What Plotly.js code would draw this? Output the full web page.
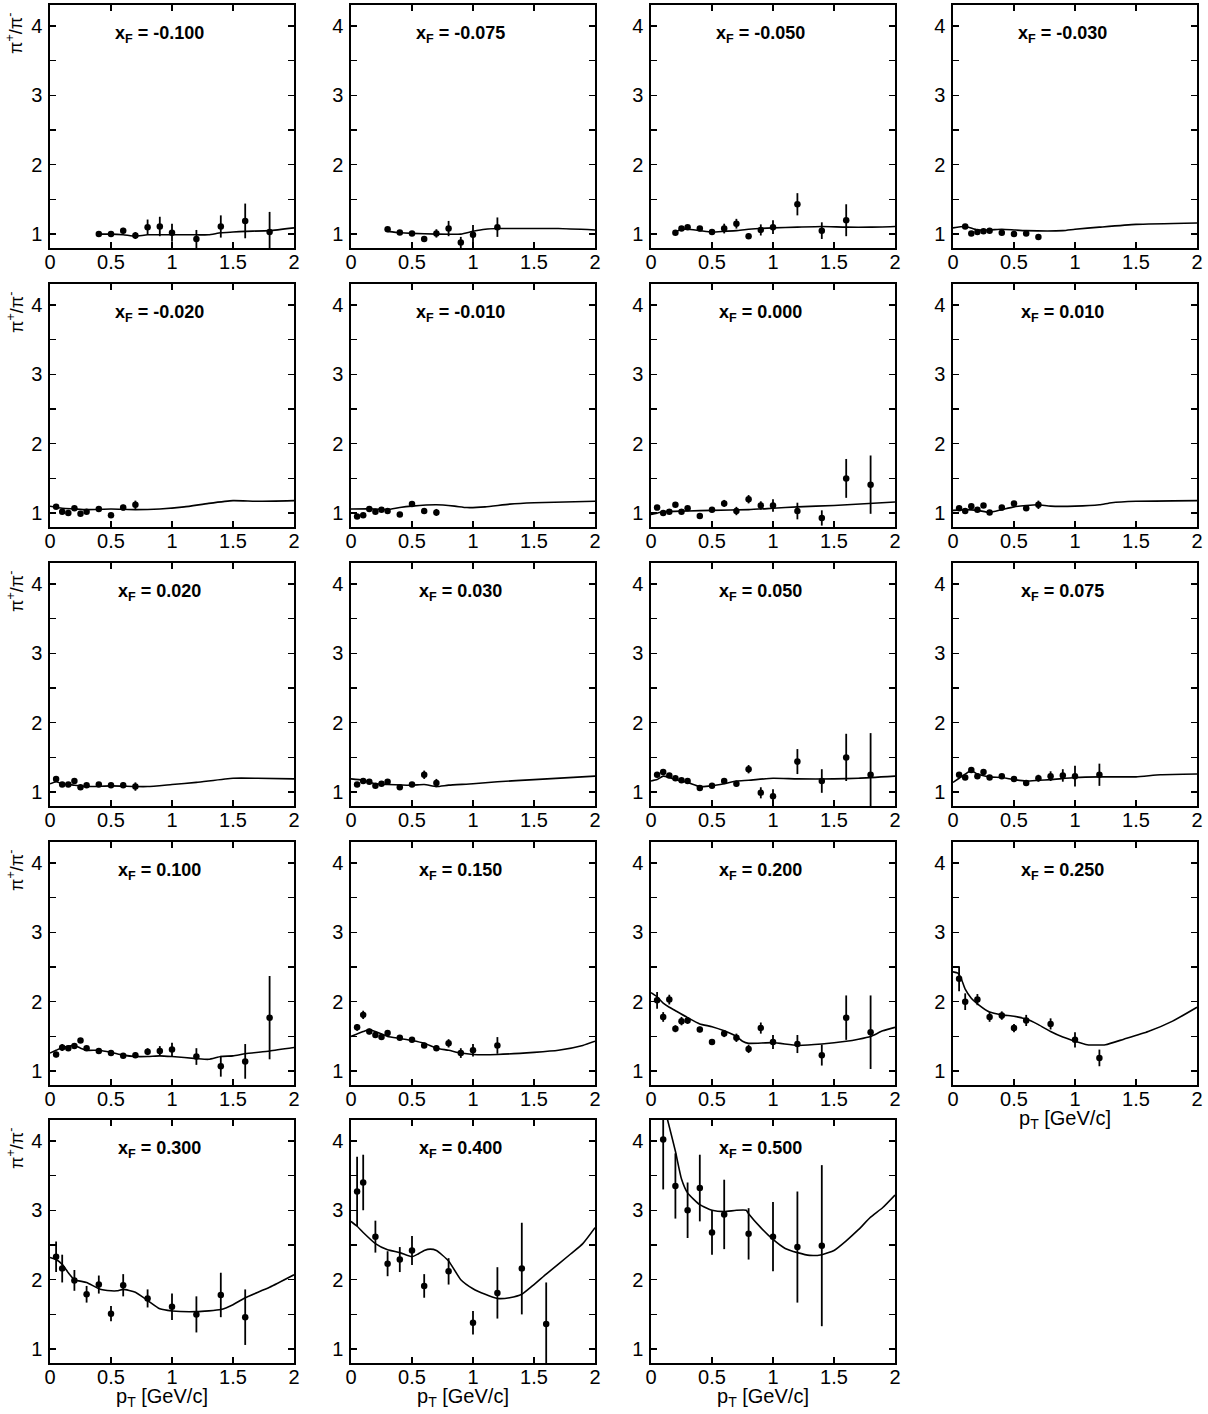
<!DOCTYPE html>
<html>
<head>
<meta charset="utf-8">
<script src="https://cdn.plot.ly/plotly-3.0.1.min.js"></script>
<style>
  html, body { margin: 0; padding: 0; background: #fff; }
  #chart { width: 1208px; height: 1414px; }
</style>
</head>
<body>
<div id="chart"></div>
<script>
// ---------------------------------------------------------------------------
// Data: pi+/pi- ratio vs pT, one panel per x_F bin.
// pt_* / r_* / e_* are the data points, cx_* / cy_* the model curve.
// ---------------------------------------------------------------------------

const xfLabels = ['-0.100', '-0.075', '-0.050', '-0.030', '-0.020', '-0.010', '0.000', '0.010',
                  '0.020', '0.030', '0.050', '0.075', '0.100', '0.150', '0.200', '0.250',
                  '0.300', '0.400', '0.500'];

const xTickVals = [0, 0.5, 1, 1.5, 2];
const xTickText = ['0', '0.5', '1', '1.5', '2'];
const yTickVals = [1, 2, 3, 4];

// x_F = -0.100
const pt_m100 = [0.4, 0.5, 0.6, 0.7, 0.8, 0.9, 1.0, 1.2, 1.4, 1.6, 1.8];
const r_m100  = [1.00, 1.00, 1.05, 0.98, 1.10, 1.11, 1.02, 0.93, 1.11, 1.19, 1.03];
const e_m100  = [0.03, 0.03, 0.04, 0.05, 0.11, 0.14, 0.13, 0.13, 0.16, 0.25, 0.29];
const cx_m100 = [0.4, 0.5, 0.6, 0.7, 0.8, 1.0, 1.2, 1.3, 1.4, 1.5, 1.6, 1.8, 2.0];
const cy_m100 = [1.00, 1.00, 0.99, 0.97, 0.99, 0.99, 0.99, 0.99, 1.02, 1.03, 1.04, 1.05, 1.09];

// x_F = -0.075
const pt_m075 = [0.3, 0.4, 0.5, 0.6, 0.7, 0.8, 0.9, 1.0, 1.2];
const r_m075  = [1.07, 1.025, 1.01, 0.93, 1.01, 1.08, 0.88, 0.99, 1.10];
const e_m075  = [0.02, 0.02, 0.03, 0.04, 0.06, 0.11, 0.08, 0.14, 0.14];
const cx_m075 = [0.3, 0.4, 0.5, 0.7, 0.9, 1.0, 1.1, 1.2, 1.5, 1.7, 2.0];
const cy_m075 = [1.04, 1.02, 1.01, 1.00, 1.00, 1.04, 1.07, 1.08, 1.08, 1.08, 1.06];

// x_F = -0.050
const pt_m050 = [0.2, 0.25, 0.3, 0.4, 0.5, 0.6, 0.7, 0.8, 0.9, 1.0, 1.2, 1.4, 1.6];
const r_m050  = [1.02, 1.08, 1.10, 1.08, 1.03, 1.08, 1.15, 0.97, 1.06, 1.10, 1.43, 1.05, 1.20];
const e_m050  = [0.02, 0.02, 0.03, 0.03, 0.03, 0.07, 0.07, 0.04, 0.08, 0.10, 0.16, 0.12, 0.23];
const cx_m050 = [0.2, 0.25, 0.3, 0.4, 0.5, 0.6, 0.7, 0.8, 1.0, 1.2, 1.4, 1.6, 1.8, 2.0];
const cy_m050 = [1.03, 1.07, 1.07, 1.05, 1.03, 1.04, 1.05, 1.07, 1.09, 1.10, 1.11, 1.10, 1.10, 1.11];

// x_F = -0.030
const pt_m030 = [0.1, 0.15, 0.2, 0.25, 0.3, 0.4, 0.5, 0.6, 0.7];
const r_m030  = [1.11, 1.01, 1.03, 1.04, 1.05, 1.02, 1.00, 1.01, 0.96];
const e_m030  = [0.02, 0.02, 0.02, 0.02, 0.02, 0.03, 0.03, 0.03, 0.04];
const cx_m030 = [0, 0.1, 0.2, 0.3, 0.4, 0.5, 0.6, 0.9, 1.0, 1.2, 1.5, 2.0];
const cy_m030 = [1.09, 1.11, 1.06, 1.06, 1.07, 1.06, 1.05, 1.05, 1.07, 1.10, 1.14, 1.16];

// pT grids shared by several bins
const pt_low = [0.05, 0.1, 0.15, 0.2, 0.25, 0.3, 0.4, 0.5, 0.6, 0.7];
const pt_mid = [0.05, 0.1, 0.15, 0.2, 0.25, 0.3, 0.4, 0.5, 0.6, 0.7, 0.8, 0.9, 1.0, 1.2];
const pt_full = [0.05, 0.1, 0.15, 0.2, 0.25, 0.3, 0.4, 0.5, 0.6, 0.7, 0.8, 0.9, 1.0, 1.2, 1.4, 1.6, 1.8];

// x_F = -0.020
const r_m020  = [1.09, 1.02, 1.00, 1.07, 0.99, 1.02, 1.06, 0.97, 1.08, 1.12];
const e_m020  = [0.02, 0.02, 0.02, 0.02, 0.02, 0.02, 0.03, 0.03, 0.04, 0.06];
const cx_m020 = [0, 0.1, 0.2, 0.3, 0.5, 0.7, 0.9, 1.1, 1.3, 1.5, 1.7, 2.0];
const cy_m020 = [1.10, 1.07, 1.06, 1.05, 1.06, 1.05, 1.06, 1.09, 1.14, 1.18, 1.17, 1.18];

// x_F = -0.010
const r_m010  = [0.95, 0.97, 1.06, 1.02, 1.05, 1.03, 0.98, 1.13, 1.03, 1.01];
const e_m010  = [0.02, 0.02, 0.02, 0.02, 0.02, 0.02, 0.03, 0.03, 0.04, 0.05];
const cx_m010 = [0, 0.2, 0.3, 0.4, 0.5, 0.7, 0.85, 0.95, 1.1, 1.3, 1.5, 2.0];
const cy_m010 = [1.06, 1.06, 1.05, 1.08, 1.10, 1.12, 1.10, 1.08, 1.09, 1.13, 1.15, 1.17];

// x_F = 0.000
const r_p000  = [1.08, 1.00, 1.02, 1.12, 1.02, 1.07, 0.96, 1.05, 1.14, 1.03, 1.20, 1.11, 1.11, 1.03, 0.93, 1.50, 1.41];
const e_p000  = [0.02, 0.02, 0.02, 0.02, 0.02, 0.02, 0.03, 0.03, 0.05, 0.06, 0.06, 0.06, 0.09, 0.12, 0.11, 0.28, 0.42];
const cx_p000 = [0, 0.05, 0.1, 0.3, 0.5, 0.8, 1.0, 1.2, 1.5, 2.0];
const cy_p000 = [0.98, 1.00, 1.02, 1.03, 1.04, 1.05, 1.07, 1.09, 1.11, 1.16];

// x_F = 0.010
const r_p010  = [1.07, 1.03, 1.10, 1.05, 1.11, 1.01, 1.08, 1.14, 1.07, 1.12];
const e_p010  = [0.02, 0.02, 0.02, 0.02, 0.02, 0.02, 0.03, 0.03, 0.04, 0.06];
const cx_p010 = [0, 0.1, 0.2, 0.3, 0.4, 0.5, 0.6, 0.7, 0.8, 1.0, 1.2, 1.3, 1.5, 2.0];
const cy_p010 = [1.04, 1.05, 1.04, 1.01, 1.05, 1.09, 1.11, 1.12, 1.10, 1.10, 1.12, 1.15, 1.17, 1.18];

// x_F = 0.020
const r_p020  = [1.19, 1.11, 1.11, 1.16, 1.07, 1.10, 1.11, 1.10, 1.10, 1.08];
const e_p020  = [0.02, 0.02, 0.02, 0.02, 0.02, 0.02, 0.03, 0.03, 0.04, 0.06];
const cx_p020 = [0, 0.05, 0.1, 0.2, 0.3, 0.5, 0.7, 0.8, 1.0, 1.2, 1.5, 1.7, 2.0];
const cy_p020 = [1.12, 1.15, 1.12, 1.10, 1.08, 1.09, 1.08, 1.08, 1.11, 1.14, 1.20, 1.20, 1.19];

// x_F = 0.030
const r_p030  = [1.11, 1.16, 1.15, 1.09, 1.12, 1.15, 1.07, 1.11, 1.25, 1.13];
const e_p030  = [0.02, 0.02, 0.02, 0.02, 0.02, 0.02, 0.03, 0.03, 0.06, 0.06];
const cx_p030 = [0, 0.1, 0.2, 0.3, 0.5, 0.6, 0.7, 0.8, 1.0, 1.2, 1.5, 2.0];
const cy_p030 = [1.19, 1.17, 1.12, 1.11, 1.10, 1.11, 1.08, 1.10, 1.12, 1.15, 1.18, 1.23];

// x_F = 0.050
const r_p050  = [1.25, 1.29, 1.24, 1.20, 1.17, 1.16, 1.06, 1.09, 1.16, 1.12, 1.33, 0.99, 0.94, 1.44, 1.16, 1.50, 1.25];
const e_p050  = [0.02, 0.02, 0.02, 0.02, 0.02, 0.02, 0.02, 0.03, 0.03, 0.04, 0.06, 0.08, 0.10, 0.18, 0.17, 0.34, 0.60];
const cx_p050 = [0, 0.05, 0.1, 0.15, 0.2, 0.3, 0.4, 0.5, 0.6, 0.7, 0.8, 1.0, 1.2, 1.5, 1.7, 2.0];
const cy_p050 = [1.16, 1.18, 1.23, 1.21, 1.18, 1.14, 1.08, 1.09, 1.12, 1.16, 1.17, 1.20, 1.19, 1.19, 1.20, 1.23];

// x_F = 0.075
const r_p075  = [1.25, 1.21, 1.32, 1.23, 1.29, 1.21, 1.23, 1.19, 1.13, 1.20, 1.23, 1.24, 1.23, 1.25];
const e_p075  = [0.02, 0.02, 0.02, 0.02, 0.02, 0.02, 0.03, 0.03, 0.03, 0.05, 0.07, 0.09, 0.15, 0.16];
const cx_p075 = [0, 0.05, 0.1, 0.15, 0.2, 0.3, 0.4, 0.5, 0.6, 0.7, 0.8, 1.0, 1.2, 1.5, 1.7, 2.0];
const cy_p075 = [1.14, 1.20, 1.26, 1.31, 1.26, 1.22, 1.21, 1.18, 1.16, 1.17, 1.18, 1.21, 1.22, 1.22, 1.25, 1.26];

// x_F = 0.100
const r_p100  = [1.24, 1.34, 1.33, 1.36, 1.44, 1.33, 1.29, 1.26, 1.22, 1.23, 1.28, 1.29, 1.31, 1.21, 1.07, 1.14, 1.77];
const e_p100  = [0.04, 0.05, 0.03, 0.03, 0.03, 0.03, 0.03, 0.03, 0.03, 0.04, 0.05, 0.07, 0.10, 0.12, 0.15, 0.25, 0.60];
const cx_p100 = [0, 0.05, 0.1, 0.2, 0.25, 0.3, 0.4, 0.5, 0.6, 0.7, 0.8, 0.9, 1.0, 1.2, 1.3, 1.4, 1.5, 1.6, 1.8, 2.0];
const cy_p100 = [1.26, 1.30, 1.34, 1.37, 1.33, 1.30, 1.30, 1.27, 1.23, 1.21, 1.21, 1.22, 1.21, 1.18, 1.17, 1.21, 1.22, 1.25, 1.29, 1.34];

// x_F = 0.150
const r_p150  = [1.63, 1.81, 1.57, 1.52, 1.49, 1.55, 1.48, 1.45, 1.37, 1.33, 1.40, 1.26, 1.30, 1.37];
const e_p150  = [0.05, 0.06, 0.04, 0.04, 0.03, 0.04, 0.03, 0.03, 0.03, 0.04, 0.06, 0.07, 0.09, 0.12];
const cx_p150 = [0, 0.1, 0.15, 0.2, 0.3, 0.4, 0.5, 0.6, 0.7, 0.8, 0.9, 1.0, 1.2, 1.5, 1.7, 1.9, 2.0];
const cy_p150 = [1.50, 1.57, 1.60, 1.57, 1.50, 1.47, 1.44, 1.40, 1.33, 1.30, 1.26, 1.24, 1.24, 1.27, 1.30, 1.37, 1.43];

// x_F = 0.200
const r_p200  = [2.02, 1.78, 2.03, 1.61, 1.72, 1.73, 1.60, 1.42, 1.54, 1.48, 1.32, 1.62, 1.42, 1.39, 1.23, 1.77, 1.56];
const e_p200  = [0.12, 0.07, 0.07, 0.05, 0.06, 0.05, 0.04, 0.03, 0.05, 0.06, 0.06, 0.08, 0.10, 0.13, 0.15, 0.32, 0.53];
const cx_p200 = [0, 0.05, 0.1, 0.15, 0.2, 0.3, 0.4, 0.5, 0.6, 0.7, 0.75, 0.8, 1.0, 1.2, 1.4, 1.6, 1.7, 1.8, 1.9, 2.0];
const cy_p200 = [2.13, 2.07, 1.98, 1.92, 1.87, 1.77, 1.68, 1.64, 1.58, 1.50, 1.43, 1.40, 1.41, 1.37, 1.39, 1.43, 1.46, 1.50, 1.58, 1.63];

// x_F = 0.250
const pt_p250 = [0.05, 0.1, 0.2, 0.3, 0.4, 0.5, 0.6, 0.8, 1.0, 1.2];
const r_p250  = [2.33, 2.00, 2.03, 1.78, 1.80, 1.62, 1.73, 1.68, 1.45, 1.19];
const e_p250  = [0.18, 0.12, 0.08, 0.07, 0.06, 0.06, 0.08, 0.08, 0.11, 0.12];
const cx_p250 = [0, 0.04, 0.07, 0.1, 0.15, 0.2, 0.3, 0.4, 0.5, 0.6, 0.7, 0.8, 0.9, 1.0, 1.1, 1.25, 1.4, 1.6, 1.8, 2.0];
const cy_p250 = [2.43, 2.41, 2.32, 2.18, 2.05, 1.97, 1.85, 1.81, 1.79, 1.75, 1.67, 1.57, 1.49, 1.43, 1.38, 1.38, 1.46, 1.57, 1.72, 1.92];

// x_F = 0.300 and 0.400 share a pT grid
const pt_high = [0.05, 0.1, 0.2, 0.3, 0.4, 0.5, 0.6, 0.8, 1.0, 1.2, 1.4, 1.6];
const r_p300  = [2.33, 2.16, 1.99, 1.79, 1.93, 1.51, 1.92, 1.73, 1.61, 1.50, 1.78, 1.46];
const e_p300  = [0.22, 0.20, 0.15, 0.12, 0.13, 0.11, 0.16, 0.13, 0.19, 0.26, 0.32, 0.40];
const cx_p300 = [0, 0.05, 0.1, 0.15, 0.2, 0.3, 0.4, 0.5, 0.55, 0.6, 0.7, 0.8, 0.9, 1.0, 1.2, 1.4, 1.5, 1.6, 1.8, 2.0];
const cy_p300 = [2.32, 2.29, 2.22, 2.10, 2.00, 1.96, 1.87, 1.84, 1.84, 1.86, 1.82, 1.70, 1.58, 1.55, 1.54, 1.57, 1.64, 1.74, 1.89, 2.07];

const r_p400  = [3.27, 3.40, 2.62, 2.23, 2.29, 2.42, 1.91, 2.12, 1.38, 1.81, 2.16, 1.36];
const e_p400  = [0.50, 0.40, 0.23, 0.18, 0.18, 0.21, 0.17, 0.19, 0.17, 0.37, 0.66, 0.60];
const cx_p400 = [0, 0.05, 0.1, 0.2, 0.3, 0.4, 0.5, 0.55, 0.6, 0.65, 0.7, 0.8, 0.9, 1.0, 1.1, 1.2, 1.3, 1.4, 1.5, 1.6, 1.8, 1.9, 2.0];
const cy_p400 = [2.84, 2.77, 2.68, 2.52, 2.43, 2.39, 2.33, 2.37, 2.42, 2.44, 2.42, 2.27, 2.00, 1.87, 1.79, 1.73, 1.74, 1.79, 1.93, 2.08, 2.37, 2.52, 2.75];

// x_F = 0.500
const pt_p500 = [0.1, 0.2, 0.3, 0.4, 0.5, 0.6, 0.8, 1.0, 1.2, 1.4];
const r_p500  = [4.02, 3.35, 3.00, 3.32, 2.68, 2.94, 2.66, 2.62, 2.47, 2.49];
const e_p500  = [0.72, 0.47, 0.40, 0.48, 0.32, 0.50, 0.37, 0.50, 0.80, 1.16];
const cx_p500 = [0.1, 0.2, 0.25, 0.3, 0.4, 0.5, 0.6, 0.7, 0.78, 0.8, 0.9, 1.0, 1.1, 1.2, 1.3, 1.4, 1.5, 1.6, 1.7, 1.8, 1.9, 2.0];
const cy_p500 = [4.55, 3.85, 3.45, 3.25, 3.08, 3.00, 2.98, 3.00, 3.00, 2.95, 2.75, 2.58, 2.45, 2.39, 2.35, 2.36, 2.42, 2.56, 2.72, 2.90, 3.04, 3.22];

// ---------------------------------------------------------------------------
// Panel table (order = reading order in the 4-column grid)
// ---------------------------------------------------------------------------
const panels = [
    [pt_m100, r_m100, e_m100, cx_m100, cy_m100],
    [pt_m075, r_m075, e_m075, cx_m075, cy_m075],
    [pt_m050, r_m050, e_m050, cx_m050, cy_m050],
    [pt_m030, r_m030, e_m030, cx_m030, cy_m030],
    [pt_low, r_m020, e_m020, cx_m020, cy_m020],
    [pt_low, r_m010, e_m010, cx_m010, cy_m010],
    [pt_full, r_p000, e_p000, cx_p000, cy_p000],
    [pt_low, r_p010, e_p010, cx_p010, cy_p010],
    [pt_low, r_p020, e_p020, cx_p020, cy_p020],
    [pt_low, r_p030, e_p030, cx_p030, cy_p030],
    [pt_full, r_p050, e_p050, cx_p050, cy_p050],
    [pt_mid, r_p075, e_p075, cx_p075, cy_p075],
    [pt_full, r_p100, e_p100, cx_p100, cy_p100],
    [pt_mid, r_p150, e_p150, cx_p150, cy_p150],
    [pt_full, r_p200, e_p200, cx_p200, cy_p200],
    [pt_p250, r_p250, e_p250, cx_p250, cy_p250],
    [pt_high, r_p300, e_p300, cx_p300, cy_p300],
    [pt_high, r_p400, e_p400, cx_p400, cy_p400],
    [pt_p500, r_p500, e_p500, cx_p500, cy_p500]
];

// panels that carry the pT axis title underneath
const xTitlePanels = [15, 16, 17, 18];

// ---------------------------------------------------------------------------
// Geometry (pixels in the 1208x1414 page)
// ---------------------------------------------------------------------------
const W = 1208, H = 1414;
const COL_LEFT = [50, 351, 651, 953];
const ROW_TOP = [5, 284, 563, 842, 1120];
const PANEL_W = 244, PANEL_H = 243;
const FONT = 'Liberation Sans, Arial, Helvetica, sans-serif';

const traces = [];
const annotations = [];
const layout = {
    width: W,
    height: H,
    margin: { l: 0, r: 0, t: 0, b: 0 },
    paper_bgcolor: '#ffffff',
    plot_bgcolor: '#ffffff',
    showlegend: false,
    font: { family: FONT, color: '#000', size: 19 }
};

const axisStyle = {
    ticks: 'inside',
    ticklen: 6,
    tickwidth: 1.5,
    tickcolor: '#000',
    showline: true,
    linewidth: 1.6,
    linecolor: '#000',
    mirror: 'ticks',
    showgrid: false,
    zeroline: false,
    tickfont: { family: FONT, size: 20, color: '#000' }
};

panels.forEach((p, i) => {
    const [pt, ratio, err, cx, cy] = p;
    const row = Math.floor(i / 4), col = i % 4;
    const s = i === 0 ? '' : String(i + 1);
    const left = COL_LEFT[col], top = ROW_TOP[row];

    layout['xaxis' + s] = Object.assign({}, axisStyle, {
        domain: [left / W, (left + PANEL_W) / W],
        anchor: 'y' + s,
        range: [0, 2],
        tickvals: xTickVals,
        ticktext: xTickText,
        ticklabelstandoff: -5
    });
    layout['yaxis' + s] = Object.assign({}, axisStyle, {
        domain: [1 - (top + PANEL_H) / H, 1 - top / H],
        anchor: 'x' + s,
        range: [0.8, 4.3],
        tickvals: yTickVals,
        ticktext: yTickVals.map(String),
        ticklabelstandoff: 2,
        minor: { dtick: 0.5, tick0: 0, ticks: 'inside', ticklen: 6, tickwidth: 1.5, tickcolor: '#000', showgrid: false }
    });

    // model curve
    traces.push({
        type: 'scatter',
        mode: 'lines',
        x: cx,
        y: cy,
        xaxis: 'x' + s,
        yaxis: 'y' + s,
        line: { color: '#000', width: 1.6, shape: 'spline', smoothing: 0.5 },
        hoverinfo: 'skip'
    });

    // data points with statistical errors
    traces.push({
        type: 'scatter',
        mode: 'markers',
        x: pt,
        y: ratio,
        xaxis: 'x' + s,
        yaxis: 'y' + s,
        marker: { color: '#000', size: 6.5, symbol: 'circle' },
        error_y: { type: 'data', array: err, visible: true, color: '#000', thickness: 1.8, width: 0 }
    });

    // x_F label inside the panel
    annotations.push({
        xref: 'x' + s,
        yref: 'y' + s,
        x: 0.9,
        y: 3.87,
        text: 'x<sub>F</sub> = ' + xfLabels[i],
        showarrow: false,
        xanchor: 'center',
        yanchor: 'middle',
        font: { family: FONT, size: 18, color: '#000', weight: 'bold' }
    });

    // ratio label on the left of each row
    if (col === 0) {
        annotations.push({
            xref: 'paper',
            yref: 'paper',
            x: 15 / W,
            y: 1 - (top + 28) / H,
            text: '\u03c0<sup>+</sup>/\u03c0<sup>-</sup>',
            textangle: -90,
            showarrow: false,
            xanchor: 'center',
            yanchor: 'middle',
            font: { family: FONT, size: 18, color: '#000' }
        });
    }

    // pT axis title under the bottom panel of each column
    if (xTitlePanels.includes(i)) {
        annotations.push({
            xref: 'x' + s,
            yref: 'paper',
            x: 0.92,
            y: 1 - (top + PANEL_H + 34) / H,
            text: 'p<sub>T</sub> [GeV/c]',
            showarrow: false,
            xanchor: 'center',
            yanchor: 'middle',
            font: { family: FONT, size: 20, color: '#000' }
        });
    }
});

layout.annotations = annotations;

Plotly.newPlot('chart', traces, layout, { displayModeBar: false, staticPlot: true });
</script>
</body>
</html>
